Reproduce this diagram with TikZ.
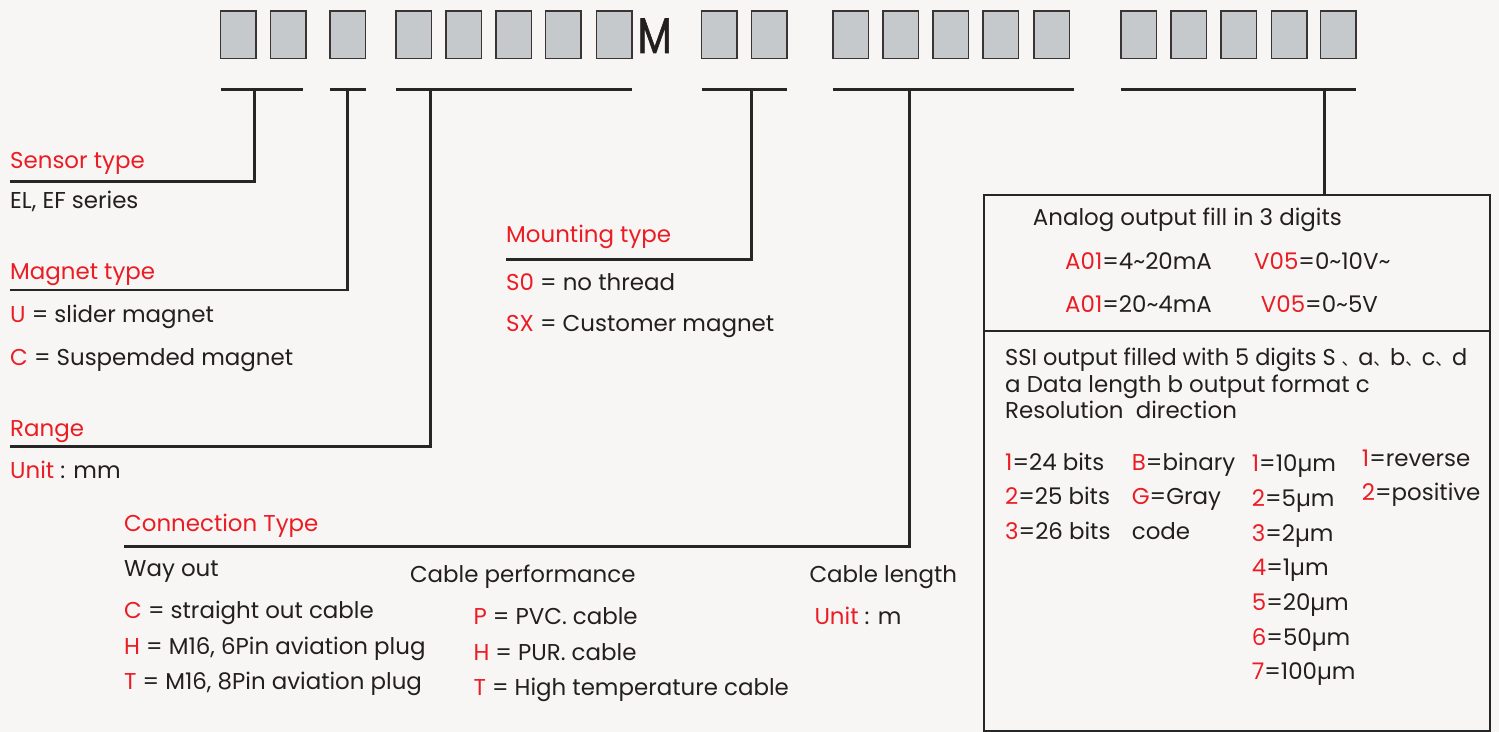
\documentclass[tikz,border=0pt]{standalone}
\usepackage{fontspec}
\setmainfont{Poppins}
\newfontfamily\cjk{Noto Sans CJK SC}
\newfontfamily\heavy[FakeBold=1.4]{Poppins}
\definecolor{paper}{HTML}{F7F6F4}
\definecolor{ink}{HTML}{231F20}
\definecolor{accent}{HTML}{EC1C24}
\definecolor{cellfill}{HTML}{C6C9CC}
\definecolor{cellline}{HTML}{3A3434}
\definecolor{rule}{HTML}{262626}
\newcommand{\rd}[1]{\textcolor{accent}{#1}}
\newcommand{\micro}{\char"00B5}
\tikzset{
  cell/.style={draw=cellline, line width=1.4bp, fill=cellfill},
  lead/.style={draw=rule, line width=2.6bp},
  txt/.style={anchor=base west, inner sep=0pt, text=ink, font=\fontsize{23}{27}\selectfont},
  head/.style={anchor=base west, inner sep=0pt, text=accent, font=\fontsize{23}{27}\selectfont},
}
\begin{document}
\begin{tikzpicture}[x=1bp, y=-1bp]
\useasboundingbox (0,0) rectangle (1499,732);
\fill[paper] (0,0) rectangle (1499,732);

% code cells
\foreach \x [count=\i] in {220.5,270.5,330,396,446,496,545.5,596.5,701.5,751.5,833,883,933,983,1034,1121,1171,1221,1271.5,1320.5}
  \draw[cell] (\x,11) rectangle ++(35.6,47.5);
\node[anchor=base west, inner sep=0pt, text=ink, font=\fontsize{50}{50}\heavy] (letterM) at (637.5,53) {\resizebox{34bp}{\height}{M}};

% group bars under the cells
\coordinate (g1a) at (221,89.3);  \coordinate (g1b) at (303,89.3);  \coordinate (g1d) at (254.5,89.3);
\coordinate (g2a) at (330,89.3);  \coordinate (g2b) at (365.5,89.3); \coordinate (g2d) at (347.5,89.3);
\coordinate (g3a) at (396,89.3);  \coordinate (g3b) at (632,89.3);  \coordinate (g3d) at (430.5,89.3);
\coordinate (g4a) at (702,89.3);  \coordinate (g4b) at (787,89.3);  \coordinate (g4d) at (751.7,89.3);
\coordinate (g5a) at (833,89.3);  \coordinate (g5b) at (1073.5,89.3); \coordinate (g5d) at (909.5,89.3);
\coordinate (g6a) at (1121,89.3); \coordinate (g6b) at (1356,89.3); \coordinate (g6d) at (1324.7,89.3);
\foreach \g in {g1,g2,g3,g4,g5,g6} \draw[lead] (\g a) -- (\g b);

% sensor type
\node[head] (sensor) at (10,168.5) {Sensor type};
\node[txt] (sensorv) at (10,208.3) {EL, EF series};
\coordinate (s1) at (9.5,181.7);
\draw[lead] (g1d) |- (s1);

% magnet type
\node[head] (magnet) at (10,279.5) {Magnet type};
\node[txt] (magnetu) at (10,322.3) {\rd{U} = slider magnet};
\node[txt] (magnetc) at (10,365.7) {\rd{C} = Suspemded magnet};
\coordinate (s2) at (9.5,290);
\draw[lead] (g2d) |- (s2);

% range
\node[head] (range) at (10,436) {Range};
\node[txt] (rangeu) at (10,478.5) {\rd{Unit} : mm};
\coordinate (s3) at (9.5,446.7);
\draw[lead] (g3d) |- (s3);

% mounting type
\node[head] (mount) at (506,242.7) {Mounting type};
\node[txt] (mounts0) at (506,290) {\rd{S0} = no thread};
\node[txt] (mountsx) at (506,331.7) {\rd{SX} = Customer magnet};
\coordinate (s4) at (506,259.3);
\draw[lead] (g4d) |- (s4);

% connection type
\node[head] (conn) at (124,531.7) {Connection Type};
\coordinate (s5) at (124,546.7);
\draw[lead] (g5d) |- (s5);
\node[txt] (way) at (124,576.7) {Way out};
\node[txt] (wayc) at (124,618.3) {\rd{C} = straight out cable};
\node[txt] (wayh) at (124,654) {\rd{H} = M16, 6Pin aviation plug};
\node[txt] (wayt) at (124,689.3) {\rd{T} = M16, 8Pin aviation plug};
\node[txt] (perf) at (409.8,582.3) {Cable performance};
\node[txt] (perfp) at (473.3,624) {\rd{P} = PVC. cable};
\node[txt] (perfh) at (473.3,660) {\rd{H} = PUR. cable};
\node[txt] (perft) at (473.3,695.7) {\rd{T} = High temperature cable};
\node[txt] (len) at (809.3,582.3) {Cable length};
\node[txt] (lenu) at (814.3,624) {\rd{Unit} : m};

% output box
\draw[lead, line width=2.2bp] (984,195) rectangle (1490,731);
\coordinate (boxtop) at (1324.7,195);
\draw[lead] (g6d) -- (boxtop);
\draw[lead, line width=2.2bp] (984,330.7) -- (1490,330.7);
\node[txt] (analog) at (1032.7,225) {Analog output fill in 3 digits};
\node[txt] (a1) at (1065,269.3) {\rd{A01}=4\textasciitilde20mA};
\node[txt] (v1) at (1254,269.3) {\rd{V05}=0\textasciitilde10V\textasciitilde};
\node[txt] (a2) at (1065,312.7) {\rd{A01}=20\textasciitilde4mA};
\node[txt] (v2) at (1260.7,312.7) {\rd{V05}=0\textasciitilde5V};

\node[txt] (ssi1) at (1005,365) {\resizebox{462bp}{\height}{SSI output filled with 5 digits S {\cjk\fontsize{17}{20}\selectfont 、}a{\cjk\fontsize{17}{20}\selectfont 、}b{\cjk\fontsize{17}{20}\selectfont 、}c{\cjk\fontsize{17}{20}\selectfont 、}d}};
\node[txt] (ssi2) at (1005,392) {a Data length b output format c};
\node[txt] (ssi3) at (1005,418.3) {Resolution\ \ direction};

\node[txt] (l1) at (1005,470) {\rd{1}=24 bits};
\node[txt] (l2) at (1005,504) {\rd{2}=25 bits};
\node[txt] (l3) at (1005,539.3) {\rd{3}=26 bits};
\node[txt] (f1) at (1131.7,470) {\rd{B}=binary};
\node[txt] (f2) at (1131.7,504) {\rd{G}=Gray};
\node[txt] (f3) at (1131.7,539.3) {code};
\foreach \v/\t [count=\i] in {1/10,2/5,3/2,4/1,5/20,6/50,7/100}
  \node[txt] (r\i) at (1251.7,471.7+34.7*\i-34.7) {\rd{\v}=\t\micro m};
\node[txt] (d1) at (1361.7,466) {\rd{1}=reverse};
\node[txt] (d2) at (1361.7,500) {\rd{2}=positive};
\end{tikzpicture}
\end{document}
